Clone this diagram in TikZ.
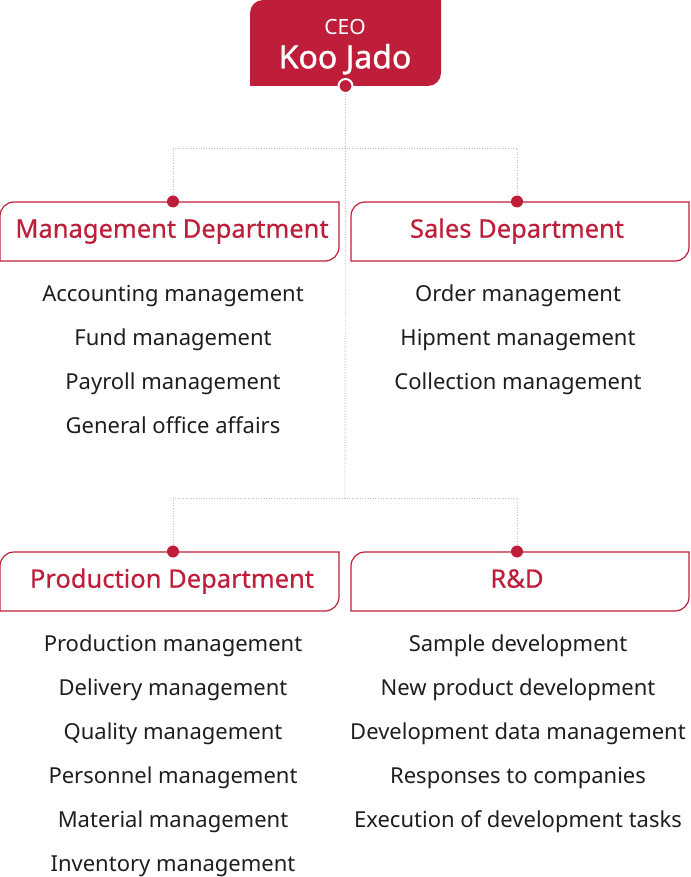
\documentclass[tikz,border=0pt]{standalone}
\usepackage{fontspec}
\setmainfont{Noto Sans}
\newfontface\heavyface[FakeBold=1.2]{Noto Sans}
\newfontface\titleface[FakeBold=0.5]{Noto Sans}
\definecolor{jadored}{RGB}{190,30,58}
\definecolor{itemgray}{RGB}{30,30,30}
\definecolor{linkgray}{RGB}{190,190,190}
\tikzset{
  deptbox/.style={inner sep=0, outer sep=0, minimum height=59pt},
  depttitle/.style={anchor=base, text=jadored, inner sep=0, font=\titleface\fontsize{25.5}{25.5}\selectfont},
  deptline/.style={draw=jadored, line width=1.2pt},
  item/.style={anchor=base, text=itemgray, inner sep=0, font=\fontsize{22}{22}\selectfont},
  dot/.style={circle, fill=jadored, inner sep=0, minimum size=12pt},
  link/.style={draw=linkgray, line width=0.9pt, dash pattern=on 1pt off 1.6pt}
}
\begin{document}
\begin{tikzpicture}[x=1pt,y=-1pt]
    \useasboundingbox (0,0) rectangle (690,877);
    % ceo
    \node[inner sep=0, outer sep=0, minimum width=191pt, minimum height=86pt] (ceo) at (345.5,43) {};
    \fill[jadored] (ceo.south west) -- ([yshift=-13pt]ceo.north west) arc(180:90:13pt) -- (ceo.north east) -- ([yshift=13pt]ceo.south east) arc(0:-90:13pt) -- cycle;
    \node[anchor=base, inner sep=0, text=white, font=\fontsize{21}{21}\selectfont] (ceolabel) at (345,34.3) {CEO};
    \node[anchor=base, inner sep=0, text=white, font=\heavyface\fontsize{32}{32}\selectfont] (ceoname) at (345,68.3) {Koo Jado};
    % departments
    \node[deptbox, minimum width=339pt] (mgmt) at (169.5,231.5) {};
    \node[deptbox, minimum width=338pt] (sales) at (520,231.5) {};
    \node[deptbox, minimum width=339pt] (prod) at (169.5,581.5) {};
    \node[deptbox, minimum width=338pt] (rnd) at (520,581.5) {};
    \foreach \b in {mgmt,sales,prod,rnd}
        \draw[deptline] (\b.south west) -- ([yshift=-14pt]\b.north west) arc(180:90:14pt) -- (\b.north east) -- ([yshift=14pt]\b.south east) arc(0:-90:14pt) -- cycle;
    \node[depttitle] (mgmttitle) at (172,237.7) {Management Department};
    \node[depttitle] (salestitle) at (517,237.7) {Sales Department};
    \node[depttitle] (prodtitle) at (172,587.7) {Production Department};
    \node[depttitle] (rndtitle) at (517,587.7) {R\&D};
    % links
    \coordinate (split1) at (345,148);
    \coordinate (split2) at (345,498);
    \node[dot] (mgmtdot) at (173,201.5) {};
    \node[dot] (salesdot) at (517,201.5) {};
    \node[dot] (proddot) at (173,551.5) {};
    \node[dot] (rnddot) at (517,551.5) {};
    \draw[link] (ceo.south) -- (split2);
    \draw[link] (mgmtdot) |- (split1) -| (salesdot);
    \draw[link] (proddot) |- (split2) -| (rnddot);
    \node[dot, draw=white, line width=2pt, minimum size=14pt] (ceodot) at (ceo.south) {};
    % lists
    \foreach \t [count=\i] in {Accounting management, Fund management, Payroll management, General office affairs}
        \node[item] (mgmt-\i) at (173,257.7+44*\i) {\t};
    \foreach \t [count=\i] in {Order management, Hipment management, Collection management}
        \node[item] (sales-\i) at (518,257.7+44*\i) {\t};
    \foreach \t [count=\i] in {Production management, Delivery management, Quality management, Personnel management, Material management, Inventory management}
        \node[item] (prod-\i) at (173,607.7+44*\i) {\t};
    \foreach \t [count=\i] in {Sample development, New product development, Development data management, Responses to companies, Execution of development tasks}
        \node[item] (rnd-\i) at (518,607.7+44*\i) {\t};
\end{tikzpicture}
\end{document}
